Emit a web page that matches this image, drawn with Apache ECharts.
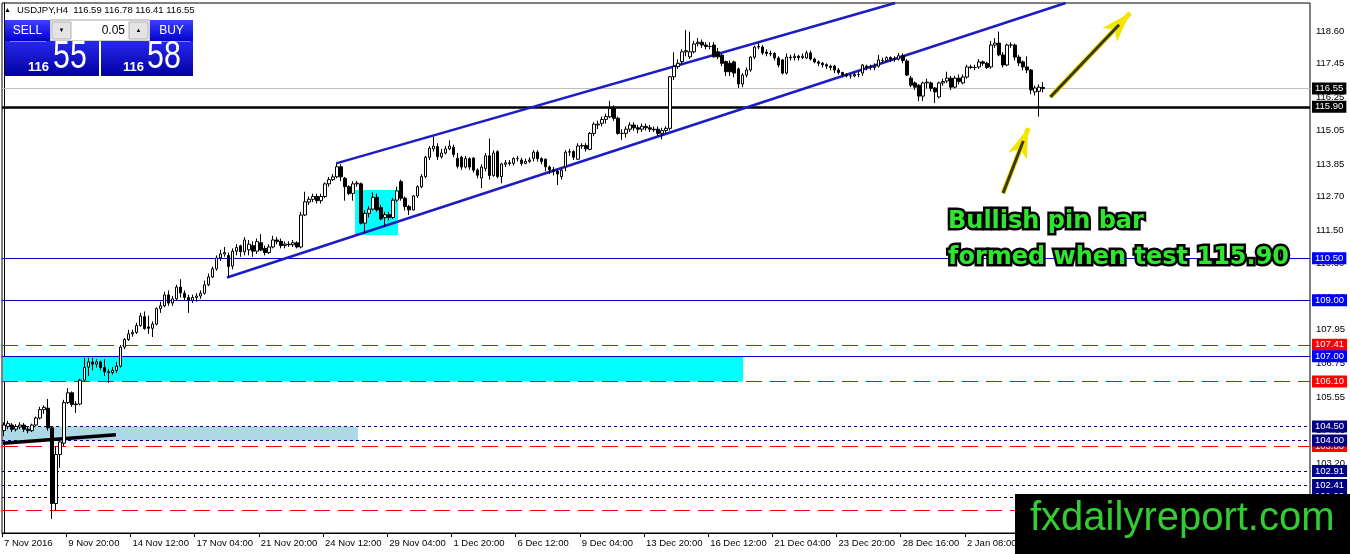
<!DOCTYPE html>
<html>
<head>
<meta charset="utf-8">
<script src="https://cdn.jsdelivr.net/npm/echarts@6/dist/echarts.min.js"></script>
<style>
html,body{margin:0;padding:0;background:#fff;}
#chart{width:1350px;height:554px;}
</style>
</head>
<body>
<div id="chart"></div>
<script>
// ---------------- DATA ----------------
const symbolName = 'USDJPY,H4';
const askPrice = 116.58;
const lotSize = '0.05';

const opens = [104.35,104.50,104.55,104.40,104.48,104.55,104.40,104.35,104.55,104.80,105.10,105.15,104.45,101.75,103.50,103.90,105.35,105.70,105.28,105.30,
106.15,106.62,106.80,106.72,106.80,106.60,106.45,106.42,106.50,106.65,107.33,107.60,107.80,107.85,108.10,108.41,108.05,108.00,108.15,108.70,
108.80,109.19,108.90,109.05,109.47,109.25,109.10,109.00,109.10,109.15,109.25,109.55,109.83,110.12,110.51,110.65,110.60,110.22,110.75,110.94,
110.73,110.80,110.95,110.75,111.05,110.85,110.70,110.90,111.15,111.10,110.95,111.00,110.98,111.05,110.90,112.04,112.50,112.60,112.70,112.55,
112.70,113.15,113.30,113.40,113.76,113.35,113.05,112.81,113.15,113.15,111.75,112.10,112.25,112.67,112.30,111.95,112.05,111.95,112.57,113.23,
112.64,112.34,112.22,112.72,113.05,113.41,114.10,114.40,114.48,114.12,114.25,114.40,114.45,114.06,114.10,113.75,114.05,114.07,113.64,113.36,
113.70,114.15,113.45,114.30,113.41,113.85,113.90,113.88,114.05,114.00,113.88,113.95,114.06,114.28,114.05,114.03,113.75,113.65,113.60,113.41,
113.76,114.28,114.30,114.03,114.50,114.52,114.38,114.95,115.25,115.31,115.45,115.54,115.84,115.49,114.95,114.95,115.10,115.25,115.15,115.10,
115.20,115.15,115.10,115.10,114.95,115.05,115.13,116.97,117.33,117.51,117.86,117.68,117.86,118.15,118.20,118.10,118.05,118.10,117.86,117.74,
117.51,117.45,117.50,117.25,116.71,117.03,117.21,117.67,118.03,118.03,117.85,117.80,117.80,117.64,117.57,117.10,117.67,117.65,117.70,117.65,
117.64,117.82,117.60,117.50,117.45,117.40,117.35,117.35,117.21,117.12,117.05,117.00,117.00,117.05,117.10,117.35,117.30,117.30,117.35,117.55,
117.55,117.65,117.60,117.60,117.72,117.53,116.92,116.75,116.67,116.28,116.75,116.75,116.57,116.25,116.75,116.82,116.92,116.60,116.92,116.75,
116.96,117.32,117.30,117.32,117.50,117.45,117.32,118.10,118.17,117.75,117.39,118.10,118.10,117.67,117.50,117.32,117.21,116.43,116.45,116.59];

const closes = [104.55,104.60,104.40,104.50,104.55,104.40,104.35,104.55,104.80,105.10,105.18,104.45,101.75,103.50,103.95,105.35,105.70,105.28,105.30,106.15,
106.60,106.80,106.72,106.80,106.60,106.45,106.42,106.50,106.65,107.33,107.60,107.80,107.85,108.10,108.44,107.99,108.00,108.15,108.70,108.80,
109.19,108.90,109.05,109.47,109.26,109.10,109.00,109.10,109.15,109.25,109.55,109.83,110.12,110.51,110.65,110.70,110.20,110.75,110.88,110.73,
111.15,111.00,110.75,111.09,110.79,110.70,110.90,111.15,111.10,110.95,111.00,110.98,111.05,110.90,112.04,112.51,112.60,112.70,112.55,112.70,
113.15,113.30,113.40,113.76,113.40,113.05,112.81,113.15,113.18,111.75,112.10,112.25,112.67,112.22,111.90,112.05,111.95,112.57,112.90,112.64,
112.34,112.22,112.72,113.05,113.41,114.10,114.42,114.50,114.12,114.25,114.40,114.50,114.20,113.78,113.75,114.05,113.75,113.64,113.46,113.75,
114.15,113.45,114.25,113.41,113.86,113.90,113.88,114.05,114.05,113.88,113.95,114.00,114.28,114.05,113.95,113.76,113.65,113.60,113.50,113.64,
114.28,114.30,114.10,114.50,114.52,114.40,114.95,115.28,115.28,115.45,115.55,115.84,115.49,114.95,114.95,115.10,115.25,115.15,115.10,115.20,
115.15,115.10,115.08,114.95,115.05,115.13,116.97,117.33,117.45,117.86,117.90,117.86,118.14,118.20,118.10,118.05,118.05,117.68,117.68,117.45,
117.15,117.15,117.10,116.71,117.03,117.21,117.67,118.03,118.05,117.82,117.80,117.78,117.64,117.39,117.10,117.67,117.65,117.70,117.65,117.70,
117.82,117.60,117.50,117.45,117.40,117.35,117.30,117.21,117.12,117.05,117.00,117.00,117.05,117.05,117.39,117.30,117.32,117.35,117.57,117.55,
117.65,117.60,117.62,117.72,117.55,117.03,116.67,116.60,116.28,116.75,116.78,116.56,116.43,116.75,116.80,116.92,116.60,116.92,116.80,116.96,
117.32,117.30,117.30,117.50,117.45,117.30,118.10,118.17,117.75,117.39,118.10,118.10,117.67,117.46,117.32,117.21,116.50,116.57,116.60,116.55];

const lows = [104.15,104.40,104.30,104.32,104.40,104.30,104.25,104.30,104.50,104.75,104.95,104.35,101.20,101.50,103.02,103.80,105.30,105.20,104.98,105.25,
106.10,106.30,106.50,106.60,106.50,106.30,106.05,106.35,106.40,106.60,107.25,107.55,107.70,107.80,108.05,107.95,107.80,107.69,108.10,108.55,
108.75,108.80,108.80,109.00,109.10,109.00,108.55,108.90,108.95,109.05,109.20,109.50,109.80,110.05,110.40,110.55,109.80,110.10,110.60,110.55,
110.60,110.60,110.55,110.65,110.75,110.60,110.65,110.85,111.00,110.85,110.85,110.90,110.90,110.85,110.85,112.00,112.40,112.50,112.45,112.45,
112.65,113.05,113.25,113.35,113.25,112.55,112.75,112.55,113.05,111.70,111.40,111.95,112.20,112.15,111.85,111.62,111.85,111.90,112.50,112.55,
112.20,112.04,112.20,112.65,113.00,113.35,114.00,114.30,114.00,114.05,114.20,114.35,114.10,113.70,113.65,113.70,113.65,113.55,113.35,113.00,
113.60,113.30,113.40,113.35,113.17,113.75,113.80,113.80,113.95,113.80,113.85,113.90,113.95,113.95,113.85,113.60,113.50,113.45,113.11,113.30,
113.60,114.15,114.00,114.00,114.40,114.30,114.35,114.85,115.10,115.20,115.30,115.50,115.40,114.90,114.71,114.80,115.00,115.05,114.95,115.00,
115.05,115.00,115.00,114.85,114.74,114.95,115.05,116.85,117.25,117.40,117.70,117.60,117.80,118.05,118.00,117.95,117.95,117.65,117.60,117.35,
117.00,117.00,116.95,116.57,116.60,116.95,117.15,117.60,117.95,117.75,117.70,117.70,117.55,117.30,117.05,117.05,117.55,117.55,117.55,117.60,
117.60,117.55,117.45,117.35,117.30,117.25,117.20,117.10,117.05,116.95,116.95,116.90,116.95,116.95,117.00,117.20,117.20,117.20,117.30,117.45,
117.50,117.50,117.50,117.55,117.45,117.00,116.60,116.50,116.10,116.10,116.55,116.45,116.03,116.20,116.65,116.75,116.50,116.55,116.70,116.70,
116.90,117.25,117.20,117.25,117.35,117.25,117.25,118.00,117.70,117.30,117.35,118.00,117.55,117.35,117.20,117.10,116.35,116.30,115.55,116.41];

const highs = [104.65,104.70,104.62,104.58,104.65,104.62,104.50,104.60,104.85,105.20,105.25,105.48,104.50,103.80,104.05,105.45,105.87,105.75,105.40,106.20,
106.94,106.95,106.95,106.90,106.85,106.90,106.55,106.62,106.80,107.40,107.65,107.95,107.95,108.20,108.55,108.60,108.45,108.25,108.75,108.95,
109.30,109.35,109.15,109.55,109.75,109.35,109.20,109.20,109.25,109.35,109.70,109.95,110.20,110.60,110.80,110.90,110.70,110.85,111.00,110.98,
111.25,111.15,111.10,111.20,111.36,110.95,111.00,111.30,111.25,111.20,111.10,111.10,111.15,111.10,112.15,112.87,112.70,112.80,112.80,112.80,
113.20,113.40,113.50,113.88,113.85,113.40,113.10,113.25,113.25,113.20,112.20,112.35,112.85,112.80,112.40,112.15,112.15,112.65,113.05,113.30,
112.70,112.40,112.75,113.10,113.50,114.15,114.50,114.83,114.60,114.40,114.50,114.70,114.55,114.25,114.15,114.15,114.10,114.10,113.70,113.85,
114.25,114.77,114.35,114.35,113.90,114.00,114.00,114.10,114.15,114.08,114.05,114.10,114.35,114.35,114.10,114.05,113.80,113.75,113.65,113.70,
114.35,114.40,114.35,114.60,114.60,114.60,115.00,115.35,115.40,115.55,115.65,116.11,115.95,115.55,115.10,115.20,115.35,115.35,115.25,115.30,
115.30,115.25,115.20,115.20,115.15,115.20,117.00,117.84,117.60,117.95,118.64,118.58,118.25,118.35,118.30,118.20,118.20,118.20,118.00,117.80,
117.55,117.55,117.55,117.30,117.10,117.30,117.70,118.08,118.21,118.10,117.95,117.90,117.85,117.70,117.60,117.80,117.75,117.80,117.75,117.80,
117.90,117.90,117.65,117.55,117.50,117.45,117.40,117.40,117.28,117.15,117.10,117.10,117.12,117.15,117.42,117.40,117.40,117.45,117.75,117.65,
117.70,117.70,117.70,117.82,117.80,117.60,117.00,116.80,116.70,116.80,116.90,116.80,116.60,116.80,116.90,117.15,117.00,117.00,117.05,117.05,
117.40,117.40,117.40,117.60,117.55,117.50,118.25,118.35,118.58,117.85,118.15,118.20,118.15,117.75,117.55,117.70,117.25,116.65,116.70,116.78];

// time axis tick labels (one every 16 H4 bars)
const xTickLabels = ['7 Nov 2016','9 Nov 20:00','14 Nov 12:00','17 Nov 04:00','21 Nov 20:00','24 Nov 12:00','29 Nov 04:00','1 Dec 20:00',
  '6 Dec 12:00','9 Dec 04:00','13 Dec 20:00','16 Dec 12:00','21 Dec 04:00','23 Dec 20:00','28 Dec 16:00','2 Jan 08:00'];
const barsPerTick = 16;
const slotCount = 326; // bar slots incl. empty right shift

// price axis tick labels
const yTicks = [118.60,117.45,116.25,115.05,113.85,112.70,111.50,110.30,109.10,107.95,106.75,105.55,104.35,103.20,101.90];

// horizontal levels
const blueLevels = [110.50, 109.00, 107.00];
const redLevels = [107.41, 106.10, 103.80, 101.52];
const navyLevels = [104.50, 102.91, 102.41, 101.99, 104.00];
const supportLevel = 115.90;

// zones [fromBar, toBar, top, bottom]
const cyanZone = [-0.25, 184.2, 107.00, 106.10];
const lightBlueZone = [-0.25, 88.2, 104.50, 104.00];
const consolidationBox = [87.5, 98.2, 112.93, 111.33];

// trend lines [[bar, price],[bar, price]]
const channelUpper = [[82.8, 113.88], [222.1, 119.60]];
const channelLower = [[55.6, 109.81], [264.6, 119.60]];
const blackTrend = [[-0.3, 103.90], [27.9, 104.20]];
// arrows [[tailBar, tailPrice],[tipBar, tipPrice]]
const arrowPin = [[249.0, 112.82], [255.3, 115.14]];
const arrowUp = [[260.8, 116.25], [280.7, 119.24]];

// ---------------- BUILD ----------------
const n = opens.length;
const candles = opens.map((o, i) => [o, closes[i], lows[i], highs[i]]);
const cats = Array.from({length: slotCount}, (_, i) => String(i));
const isTick = (idx) => idx % barsPerTick === 0 && idx / barsPerTick < xTickLabels.length;
const bid = closes[n - 1];
const FONT = '"Liberation Sans", Arial, sans-serif';

function levelSeries(values, color, type, width, box, z) {
  return {
    type: 'line', xAxisIndex: 1, data: [], z: z, silent: true,
    markLine: {
      silent: true, symbol: ['none', 'none'], emphasis: {disabled: true},
      lineStyle: {color: color, type: type, width: width},
      label: {show: true, position: 'end', distance: 2, formatter: (p) => Number(p.value).toFixed(2),
        color: '#fff', backgroundColor: box, padding: [1, 3, 0, 3], fontSize: 9.5, fontFamily: FONT, lineHeight: 11},
      data: values.map(v => ({yAxis: v}))
    }
  };
}
function seg(p, style) {
  return [{coord: p[0], lineStyle: style}, {coord: p[1]}];
}
// point at fraction t along a segment
const along = (p, t) => [p[0][0] + (p[1][0] - p[0][0]) * t, p[0][1] + (p[1][1] - p[0][1]) * t];
const zone = (z, color) => [{xAxis: z[0], yAxis: z[2], itemStyle: {color: color}}, {xAxis: z[1], yAxis: z[3]}];

const grad = (a, b) => ({type: 'linear', x: 0, y: 0, x2: 0, y2: 1, colorStops: [{offset: 0, color: a}, {offset: 1, color: b}]});
const bidStr = bid.toFixed(2).split('.');
const askStr = askPrice.toFixed(2).split('.');
const titleText = symbolName + '  ' + [opens[n-1], highs[n-1], lows[n-1], closes[n-1]].map(v => v.toFixed(2)).join(' ');

const chart = echarts.init(document.getElementById('chart'), null, {renderer: 'canvas'});
chart.setOption({
  animation: false,
  backgroundColor: '#ffffff',
  grid: {left: 2, right: 40, top: 3, bottom: 21, show: true, borderColor: '#000', borderWidth: 1, backgroundColor: 'transparent'},
  xAxis: [{
    type: 'category', data: cats, boundaryGap: true,
    axisLine: {lineStyle: {color: '#000', width: 1}},
    axisTick: {show: true, alignWithLabel: false, interval: (idx) => isTick(idx), length: 4, lineStyle: {color: '#000'}},
    axisLabel: {interval: (idx) => isTick(idx), formatter: (v, idx) => xTickLabels[idx / barsPerTick] || '',
      align: 'left', color: '#000', fontSize: 9.5, fontFamily: FONT, margin: 5},
    splitLine: {show: false}
  }, {
    type: 'value', min: -0.5, max: slotCount - 0.5, show: false
  }],
  yAxis: {
    type: 'value', position: 'right', min: 100.70, max: 119.60,
    axisLine: {show: true, lineStyle: {color: '#000'}},
    axisTick: {show: false},
    axisLabel: {customValues: yTicks, formatter: (v) => Number(v).toFixed(2), color: '#000', fontSize: 9.5, fontFamily: FONT, margin: 6},
    splitLine: {show: false}
  },
  series: [
    {
      type: 'line', xAxisIndex: 1, data: [], z: 1, silent: true,
      markArea: {silent: true, z: 1, data: [zone(cyanZone, '#00ffff'), zone(lightBlueZone, '#add8e6'), zone(consolidationBox, '#00ffff')]}
    },
    levelSeries(redLevels, '#ff0000', [16, 8], 1, '#ff0000', 2),
    levelSeries(navyLevels, '#000080', [3, 3], 1, '#000080', 3),
    levelSeries(blueLevels, '#0000cc', 'solid', 1, '#0000ff', 3),
    levelSeries([bid], '#c0c0c0', 'solid', 1, '#000000', 3),
    levelSeries([supportLevel], '#000000', 'solid', 2.5, '#000000', 3),
    {
      type: 'candlestick', xAxisIndex: 0, data: candles, z: 5, barWidth: 3, silent: true,
      itemStyle: {color: '#ffffff', color0: '#000000', borderColor: '#000000', borderColor0: '#000000', borderWidth: 1}
    },
    {
      type: 'line', xAxisIndex: 1, data: [], z: 6, silent: true,
      markLine: {silent: true, symbol: ['none', 'none'], label: {show: false}, emphasis: {disabled: true},
        data: [
          seg(channelUpper, {color: '#1c1cc4', width: 2.5, type: 'solid'}),
          seg(channelLower, {color: '#1c1cc4', width: 2.5, type: 'solid'}),
          seg(blackTrend, {color: '#000000', width: 3.5, type: 'solid'})
        ]}
    },
    {
      type: 'line', xAxisIndex: 1, data: [], z: 7, silent: true,
      markLine: {silent: true, symbol: ['none', 'arrow'], symbolSize: [15, 30], label: {show: false}, emphasis: {disabled: true},
        data: [
          seg(arrowPin, {color: '#f2e600', width: 5, type: 'solid'}),
          seg(arrowUp, {color: '#f2e600', width: 5, type: 'solid'})
        ]}
    },
    {
      type: 'line', xAxisIndex: 1, data: [], z: 8, silent: true,
      markLine: {silent: true, symbol: ['none', 'none'], label: {show: false}, emphasis: {disabled: true},
        data: [
          seg([arrowPin[0], along(arrowPin, 0.8)], {color: '#3a3a1a', width: 3, type: 'solid'}),
          seg([arrowUp[0], along(arrowUp, 0.86)], {color: '#3a3a1a', width: 3, type: 'solid'})
        ]}
    }
  ],
  graphic: {elements: [
    {type: 'text', x: 4, y: 10, z: 100, style: {text: '▲', fontSize: 7, fill: '#000', verticalAlign: 'middle'}},
    {type: 'text', x: 17, y: 10, z: 100, style: {text: titleText, font: '9.5px ' + FONT, fill: '#000', verticalAlign: 'middle'}},
    // one click trading panel
    {type: 'rect', z: 100, shape: {x: 50, y: 20, width: 100, height: 21}, style: {fill: '#ffffff', stroke: '#a0a0a0', lineWidth: 1}},
    {type: 'rect', z: 101, shape: {x: 52, y: 22, width: 19, height: 17}, style: {fill: '#e4e4e4', stroke: '#b0b0b0', lineWidth: 1}},
    {type: 'rect', z: 101, shape: {x: 129, y: 22, width: 19, height: 17}, style: {fill: '#e4e4e4', stroke: '#b0b0b0', lineWidth: 1}},
    {type: 'text', z: 102, x: 61.5, y: 30.5, style: {text: '▼', fontSize: 6, fill: '#000', align: 'center', verticalAlign: 'middle'}},
    {type: 'text', z: 102, x: 138.5, y: 30, style: {text: '▲', fontSize: 6, fill: '#000', align: 'center', verticalAlign: 'middle'}},
    {type: 'text', z: 102, x: 125, y: 30.5, style: {text: lotSize, font: '12px ' + FONT, fill: '#000', align: 'right', verticalAlign: 'middle'}},
    {type: 'rect', z: 100, shape: {x: 5, y: 20, width: 45, height: 21}, style: {fill: grad('#4040ff', '#0000d0')}},
    {type: 'rect', z: 100, shape: {x: 150, y: 20, width: 43, height: 21}, style: {fill: grad('#4040ff', '#0000d0')}},
    {type: 'text', z: 102, x: 27.5, y: 30.5, style: {text: 'SELL', font: '12px ' + FONT, fill: '#fff', align: 'center', verticalAlign: 'middle'}},
    {type: 'text', z: 102, x: 171.5, y: 30.5, style: {text: 'BUY', font: '12px ' + FONT, fill: '#fff', align: 'center', verticalAlign: 'middle'}},
    {type: 'rect', z: 100, shape: {x: 5, y: 41, width: 94, height: 35}, style: {fill: grad('#2828ee', '#0000a0')}},
    {type: 'rect', z: 100, shape: {x: 101, y: 41, width: 92, height: 35}, style: {fill: grad('#2828ee', '#0000a0')}},
    {type: 'line', z: 101, shape: {x1: 10, y1: 41.5, x2: 46, y2: 41.5}, style: {stroke: '#8080ff', lineWidth: 1}},
    {type: 'line', z: 101, shape: {x1: 154, y1: 41.5, x2: 190, y2: 41.5}, style: {stroke: '#8080ff', lineWidth: 1}},
    {type: 'text', z: 102, x: 28, y: 67.5, style: {text: bidStr[0], font: 'bold 13px ' + FONT, fill: '#fff', verticalAlign: 'middle'}},
    {type: 'text', z: 102, x: 53, y: 58, scaleX: 0.8, style: {text: bidStr[1], font: '38px ' + FONT, fill: '#fff', verticalAlign: 'middle'}},
    {type: 'text', z: 102, x: 123, y: 67.5, style: {text: askStr[0], font: 'bold 13px ' + FONT, fill: '#fff', verticalAlign: 'middle'}},
    {type: 'text', z: 102, x: 147, y: 58, scaleX: 0.8, style: {text: askStr[1], font: '38px ' + FONT, fill: '#fff', verticalAlign: 'middle'}},
    // annotation
    {type: 'text', z: 100, x: 948, y: 222, style: {text: 'Bullish pin bar', font: 'bold 24px "DejaVu Sans"', fill: '#2ee62e', stroke: '#000', lineWidth: 5, strokeFirst: true, verticalAlign: 'middle'}},
    {type: 'text', z: 100, x: 948, y: 258, style: {text: 'formed when test 115.90', font: 'bold 24px "DejaVu Sans"', fill: '#2ee62e', stroke: '#000', lineWidth: 5, strokeFirst: true, verticalAlign: 'middle'}},
    // logo
    {type: 'rect', z: 100, shape: {x: 1015, y: 494, width: 335, height: 60}, style: {fill: '#000'}},
    {type: 'text', z: 101, x: 1030, y: 519, style: {text: 'fxdailyreport.com', font: '40px ' + FONT, fill: '#33cc33', verticalAlign: 'middle'}}
  ]}
});
</script>
</body>
</html>
